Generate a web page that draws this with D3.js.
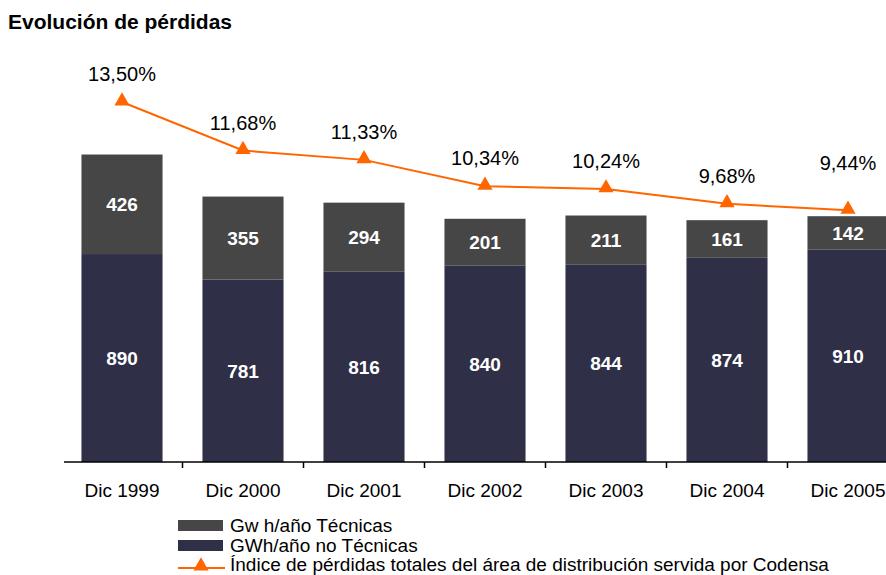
<!DOCTYPE html>
<html><head><meta charset="utf-8">
<script src="https://cdn.jsdelivr.net/npm/d3@7"></script>
<style>body{margin:0;background:#fff}svg{display:block;font-family:"Liberation Sans",Arial,sans-serif}</style>
</head><body><svg id="c" width="886" height="575"></svg>
<script>
const categories = ["Dic 1999","Dic 2000","Dic 2001","Dic 2002","Dic 2003","Dic 2004","Dic 2005"];
const noTecnicas = [890,781,816,840,844,874,910];
const tecnicas = [426,355,294,201,211,161,142];
const indice = [13.50,11.68,11.33,10.34,10.24,9.68,9.44];
const seriesNames = ["Gw h/año Técnicas","GWh/año no Técnicas","Índice de pérdidas totales del área de distribución servida por Codensa"];

const svg = d3.select("#c");
const colTec = "#464646", colNo = "#2f2f48", colLine = "#ff6600";
const x = d3.scaleBand().domain(categories).range([61.5, 908.5]).paddingInner(0.33).paddingOuter(0.165);
const y = d3.scaleLinear().domain([0, 1712]).range([462, 62]);
const y2 = d3.scaleLinear().domain([0, 15]).range([462, 62]);
const fmt = v => v.toFixed(2).replace(".", ",") + "%";

svg.append("text").attr("x", 8).attr("y", 29).attr("font-size", 21).attr("font-weight", "bold").text("Evolución de pérdidas");

const g = svg.append("g");
categories.forEach((c, i) => {
  const x0 = x(c), w = x.bandwidth();
  const a = noTecnicas[i], b = tecnicas[i];
  g.append("rect").attr("x", x0).attr("width", w).attr("y", y(a)).attr("height", y(0) - y(a)).attr("fill", colNo);
  g.append("rect").attr("x", x0).attr("width", w).attr("y", y(a + b)).attr("height", y(a) - y(a + b)).attr("fill", colTec);
  g.append("text").attr("x", x0 + w / 2).attr("y", (y(0) + y(a)) / 2 + 7).attr("text-anchor", "middle")
    .attr("fill", "#fff").attr("font-weight", "bold").attr("font-size", 19).text(a);
  g.append("text").attr("x", x0 + w / 2).attr("y", (y(a) + y(a + b)) / 2 + 7).attr("text-anchor", "middle")
    .attr("fill", "#fff").attr("font-weight", "bold").attr("font-size", 19).text(b);
});

// axis
const axis = d3.axisBottom(x).tickSize(0).tickPadding(22);
const ax = svg.append("g").attr("transform", "translate(0,462)").call(axis);
ax.select(".domain").remove();
ax.selectAll("text").attr("font-size", 19).attr("fill", "#000").attr("font-family", "Liberation Sans, Arial, sans-serif");
svg.append("line").attr("x1", 64).attr("x2", 886).attr("y1", 462).attr("y2", 462).attr("stroke", "#000").attr("stroke-width", 1.5);
categories.slice(1).forEach(c => {
  const bx = x(c) - x.step() * x.paddingInner() / 2;
  svg.append("line").attr("x1", bx).attr("x2", bx).attr("y1", 462).attr("y2", 468).attr("stroke", "#000").attr("stroke-width", 1.5);
});

// line
const cx = c => x(c) + x.bandwidth() / 2;
const line = d3.line().x((d, i) => cx(categories[i])).y(d => y2(d));
svg.append("path").datum(indice).attr("d", line).attr("fill", "none").attr("stroke", colLine).attr("stroke-width", 2);
const tri = d3.symbol().type(d3.symbolTriangle).size(100);
indice.forEach((v, i) => {
  svg.append("path").attr("d", tri()).attr("transform", `translate(${cx(categories[i])},${y2(v) - 1})`).attr("fill", colLine);
  const off = i === indice.length - 1 ? 40 : 21;
  svg.append("text").attr("x", cx(categories[i])).attr("y", y2(v) - off).attr("text-anchor", "middle")
    .attr("font-size", 20).attr("fill", "#000").text(fmt(v));
});

// legend
const lg = svg.append("g");
function legText(txt, yy) {
  const t = lg.append("text").attr("x", 230).attr("y", yy).attr("font-size", 19).text(txt);
  const w = t.node().getComputedTextLength();
  t.attr("font-size", 17.5).attr("textLength", w).attr("lengthAdjust", "spacingAndGlyphs");
}
lg.append("rect").attr("x", 178).attr("y", 520).attr("width", 45).attr("height", 11).attr("fill", colTec);
legText(seriesNames[0], 532);
lg.append("rect").attr("x", 178).attr("y", 540).attr("width", 45).attr("height", 11).attr("fill", colNo);
legText(seriesNames[1], 552);
lg.append("line").attr("x1", 178).attr("x2", 225).attr("y1", 568).attr("y2", 568).attr("stroke", colLine).attr("stroke-width", 2);
lg.append("path").attr("d", tri()).attr("transform", "translate(201,566)").attr("fill", colLine);
legText(seriesNames[2], 571);
</script></body></html>
